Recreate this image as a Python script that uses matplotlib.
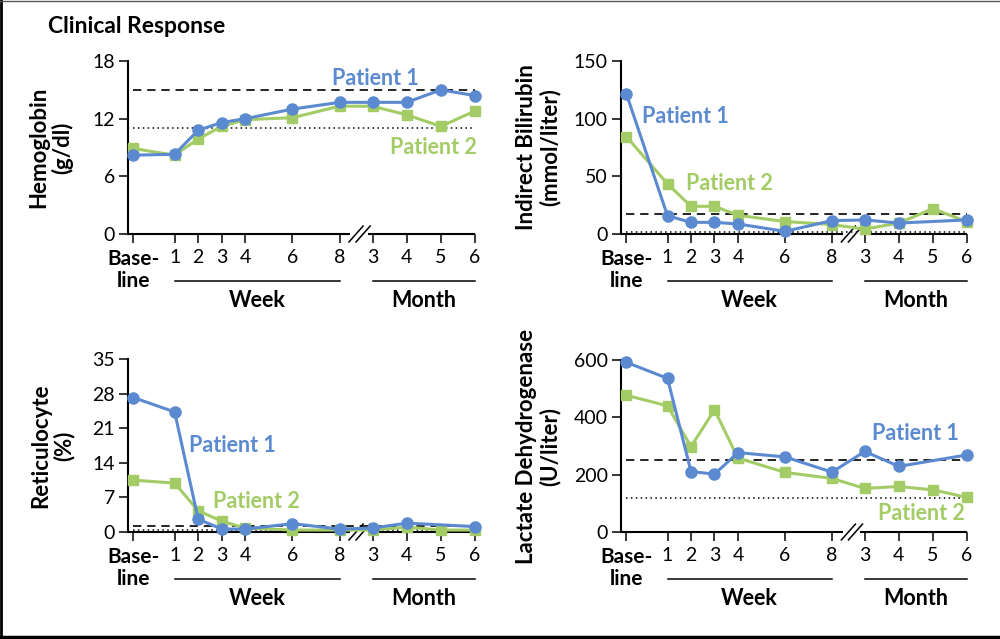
import numpy as np
import matplotlib.pyplot as plt
from matplotlib.lines import Line2D

plt.rcParams['font.family'] = ['Lato', 'DejaVu Sans']

# x axis: baseline, weeks 1-8, months 3-6
tick_labels = ['Base-\nline', '1', '2', '3', '4', '6', '8', '3', '4', '5', '6']
tick_pos = [0, 1.75, 2.75, 3.75, 4.75, 6.75, 8.75, 10.15, 11.6, 13.05, 14.5]

nan = np.nan
hgb_p1 = [8.2, 8.3, 10.8, 11.6, 12.0, 13.0, 13.7, 13.7, 13.7, 15.0, 14.4]
hgb_p2 = [8.9, 8.2, 9.9, 11.2, 11.9, 12.1, 13.3, 13.3, 12.4, 11.2, 12.8]
bili_p1 = [121.5, 15.8, 10.1, 10.1, 8.7, 2.3, 11.6, 12.2, 9.5, nan, 12.2]
bili_p2 = [84.4, 43.5, 24.0, 24.0, 16.2, 10.8, 8.2, 4.2, 9.5, 22.0, 10.5]
retic_p1 = [27.2, 24.3, 2.6, 0.6, 0.6, 1.7, 0.6, 0.8, 1.8, nan, 1.1]
retic_p2 = [10.5, 9.9, 4.3, 2.2, 0.8, 0.4, 0.4, 0.4, 1.0, 0.4, 0.4]
ldh_p1 = [592, 536, 211, 202, 277, 262, 209, 281, 229, nan, 269]
ldh_p2 = [477, 440, 298, 426, 258, 208, 187, 152, 159, 147, 121]

# normal range (upper dashed, lower dotted)
hgb_range = (15, 11)
bili_range = (17, 2)
retic_range = (1.2, 0.4)
ldh_range = (250, 120)

BLUE = '#5B8AD0'
GREEN = '#A4CC66'

fig = plt.figure(figsize=(10, 6.39), dpi=100)

panels = [
    # rect, p1, p2, range, yticks, ylabel, ylabel x, p1 label pos, p2 label pos
    ([0.128, 0.6338, 0.347, 0.2707], hgb_p1, hgb_p2, hgb_range, [0, 6, 12, 18],
     'Hemoglobin\n(g/dl)', -0.222, (8.45, 16.2), (10.9, 9.05)),
    ([0.621, 0.6338, 0.346, 0.2707], bili_p1, bili_p2, bili_range, [0, 50, 100, 150],
     'Indirect Bilirubin\n(mmol/liter)', -0.240, (0.68, 102), (2.54, 44)),
    ([0.128, 0.1674, 0.347, 0.2707], retic_p1, retic_p2, retic_range, [0, 7, 14, 21, 28, 35],
     'Reticulocyte\n(%)', -0.218, (2.37, 17.6), (3.39, 6.1)),
    ([0.621, 0.1674, 0.346, 0.2692], ldh_p1, ldh_p2, ldh_range, [0, 200, 400, 600],
     'Lactate Dehydrogenase\n(U/liter)', -0.240, (10.47, 342), (10.72, 63)),
]

x = np.array(tick_pos)
for rect, p1, p2, (hi, lo), yt, ylab, ylx, l1, l2 in panels:
    ax = fig.add_axes(rect)
    ax.set_xlim(-0.23, 14.5)
    ax.set_ylim(0, yt[-1])
    for s in ['top', 'right', 'bottom']:
        ax.spines[s].set_visible(False)
    ax.spines['left'].set_linewidth(1.5)

    ax.hlines(hi, 0, 14.5, colors='black', linestyles=(0, (5, 3.5)), lw=1.2, zorder=1)
    ax.hlines(lo, 0, 14.5, colors='black', linestyles=(0, (1, 2.2)), lw=1.1, zorder=1)

    a2 = np.array(p2, dtype=float)
    m2 = ~np.isnan(a2)
    ax.plot(x[m2], a2[m2], color=GREEN, lw=2.2, marker='s', ms=6.5, clip_on=False, zorder=3)
    a1 = np.array(p1, dtype=float)
    m1 = ~np.isnan(a1)
    ax.plot(x[m1], a1[m1], color=BLUE, lw=2.2, marker='o', ms=8, clip_on=False, zorder=4)

    ax.text(l1[0], l1[1], 'Patient 1', color=BLUE, fontsize=15.5, fontweight='bold',
            ha='left', va='center')
    ax.text(l2[0], l2[1], 'Patient 2', color=GREEN, fontsize=15.5, fontweight='bold',
            ha='left', va='center')

    ax.set_yticks(yt)
    ax.tick_params(axis='y', direction='out', length=6.5, width=1.1, pad=3, labelsize=14)
    ax.set_xticks(tick_pos, tick_labels)
    ax.tick_params(axis='x', direction='out', length=6.5, width=1.1, pad=4, labelsize=14)
    bl = ax.get_xticklabels()[0]
    bl.set_fontweight('bold')
    bl.set_fontsize(15)
    bl.set_linespacing(1.15)

    # broken x axis line
    ax.plot([-0.23, 9.2], [0, 0], color='black', lw=1.5, clip_on=False, solid_capstyle='butt')
    ax.plot([9.95, 14.5], [0, 0], color='black', lw=1.5, clip_on=False, solid_capstyle='butt')
    tr = ax.get_xaxis_transform()
    ax.plot([9.15, 9.75], [-0.046, 0.046], color='black', lw=1.1, transform=tr, clip_on=False)
    ax.plot([9.45, 10.05], [-0.046, 0.046], color='black', lw=1.1, transform=tr, clip_on=False)

    # group brackets
    ax.plot([1.75, 8.75], [-0.272, -0.272], color='black', lw=1.1, transform=tr, clip_on=False)
    ax.plot([10.15, 14.5], [-0.272, -0.272], color='black', lw=1.1, transform=tr, clip_on=False)
    ax.text(5.25, -0.385, 'Week', transform=tr, ha='center', va='center',
            fontsize=15.5, fontweight='bold')
    ax.text(12.33, -0.385, 'Month', transform=tr, ha='center', va='center',
            fontsize=15.5, fontweight='bold')

    ax.text(ylx, 0.5, ylab, transform=ax.transAxes, rotation=90, ha='center', va='center',
            multialignment='center', fontsize=16, fontweight='bold', linespacing=1.1)

fig.text(0.048, 0.958, 'Clinical Response', fontsize=16.5, fontweight='bold', ha='left', va='center')

# frame around the figure
fig.add_artist(Line2D([0.001, 0.001], [0, 1], color='black', lw=2, transform=fig.transFigure))
fig.add_artist(Line2D([0, 1], [0.003, 0.003], color='black', lw=2.5, transform=fig.transFigure))
fig.add_artist(Line2D([0, 1], [0.999, 0.999], color='#555555', lw=1, transform=fig.transFigure))

fig.savefig('out.png', dpi=100)
